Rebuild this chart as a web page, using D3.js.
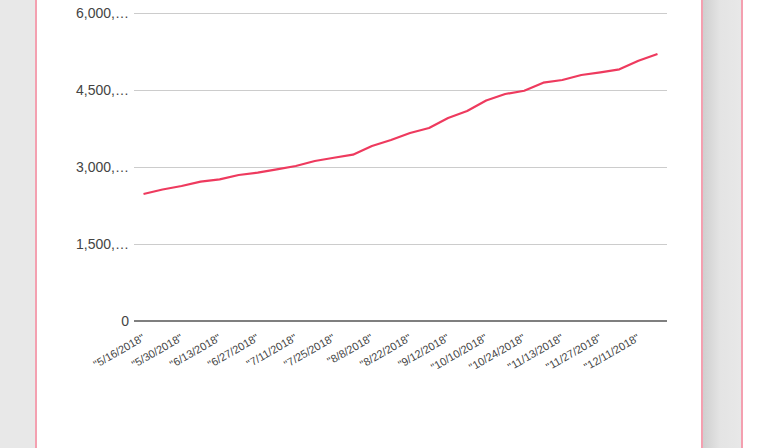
<!DOCTYPE html>
<html>
<head>
<meta charset="utf-8">
<style>
  body { margin: 0; background: #e8e8e8; }
  .grid line { stroke: #cccccc; shape-rendering: crispEdges; }
  .axis text { font-family: "Liberation Sans", Arial, sans-serif; fill: #444; }
</style>
</head>
<body>
<div id="chart"></div>
<script src="https://d3js.org/d3.v7.min.js"></script>
<script>
// categories (the csv had the quotes in the strings)
var dates = ['"5/16/2018"', '"5/23/2018"', '"5/30/2018"', '"6/6/2018"', '"6/13/2018"', '"6/20/2018"',
  '"6/27/2018"', '"7/4/2018"', '"7/11/2018"', '"7/18/2018"', '"7/25/2018"', '"8/1/2018"',
  '"8/8/2018"', '"8/15/2018"', '"8/22/2018"', '"9/5/2018"', '"9/12/2018"', '"9/26/2018"',
  '"10/10/2018"', '"10/17/2018"', '"10/24/2018"', '"10/31/2018"', '"11/13/2018"', '"11/20/2018"',
  '"11/27/2018"', '"12/4/2018"', '"12/11/2018"', '"12/18/2018"'];

var values = [2474, 2562, 2630, 2714, 2760, 2844, 2889, 2955, 3019, 3117, 3181, 3240,
  3409, 3526, 3662, 3760, 3955, 4091, 4295, 4422, 4486, 4642, 4695, 4792,
  4845, 4903, 5071, 5201];

var yTicks = [0, 1500, 3000, 4500, 6000];
var yTickLabels = ["0", "1,500,\u2026", "3,000,\u2026", "4,500,\u2026", "6,000,\u2026"];

var width = 760, height = 448;
var pink = "#f4a0b0";

var svg = d3.select("#chart").append("svg")
    .attr("width", width)
    .attr("height", height)
    .style("display", "block");

// page frame: card + side panel
svg.append("rect").attr("x", 0).attr("y", 0).attr("width", width).attr("height", height).attr("fill", "#e8e8e8");
svg.append("rect").attr("x", 37).attr("y", 0).attr("width", 664).attr("height", height).attr("fill", "#fff");
svg.append("rect").attr("x", 35).attr("y", 0).attr("width", 2).attr("height", height).attr("fill", pink);
svg.append("rect").attr("x", 701).attr("y", 0).attr("width", 2).attr("height", height).attr("fill", pink);

var grad = svg.append("defs").append("linearGradient").attr("id", "shade");
grad.append("stop").attr("offset", "0%").attr("stop-color", "#cfcfcf");
grad.append("stop").attr("offset", "45%").attr("stop-color", "#e4e4e4");
grad.append("stop").attr("offset", "100%").attr("stop-color", "#e8e8e8");
svg.append("rect").attr("x", 703).attr("y", 0).attr("width", 38).attr("height", height).attr("fill", "url(#shade)");
svg.append("rect").attr("x", 741).attr("y", 0).attr("width", 2).attr("height", height).attr("fill", pink);
svg.append("rect").attr("x", 743).attr("y", 0).attr("width", 17).attr("height", height).attr("fill", "#fff");

var plotLeft = 134, plotRight = 667, plotTop = 13, plotBottom = 321;

var x = d3.scaleBand()
    .domain(dates)
    .range([plotLeft, plotRight])
    .padding(0);

var y = d3.scaleLinear()
    .domain([0, 6000])
    .range([plotBottom, plotTop]);

// gridlines + y labels
var yAxis = svg.append("g")
    .attr("class", "axis grid")
    .attr("transform", "translate(" + plotLeft + ",0)")
    .call(d3.axisLeft(y)
        .tickValues(yTicks)
        .tickSize(-(plotRight - plotLeft))
        .tickPadding(5)
        .tickFormat(function(d, i) { return yTickLabels[i]; }));
yAxis.select(".domain").remove();
yAxis.selectAll("text").attr("font-size", 14);
yAxis.selectAll(".tick").filter(function(d) { return d === 0; }).select("line").remove();

// baseline
svg.append("line")
    .attr("x1", plotLeft).attr("x2", plotRight)
    .attr("y1", y(0)).attr("y2", y(0))
    .attr("stroke", "#555")
    .attr("stroke-width", 1.5);

// x labels, every other category
var xAxis = svg.append("g")
    .attr("class", "axis")
    .attr("transform", "translate(0," + plotBottom + ")")
    .call(d3.axisBottom(x)
        .tickValues(dates.filter(function(d, i) { return i % 2 === 0; }))
        .tickSize(0));
xAxis.select(".domain").remove();
xAxis.selectAll("text")
    .attr("font-size", 11)
    .attr("text-anchor", "end")
    .attr("x", 0).attr("y", 0).attr("dy", 0)
    .attr("transform", "translate(2,19) rotate(-30)");

var line = d3.line()
    .x(function(d, i) { return x(dates[i]) + x.bandwidth() / 2; })
    .y(function(d) { return y(d); });

svg.append("path")
    .datum(values)
    .attr("fill", "none")
    .attr("stroke", "#ee3a5e")
    .attr("stroke-width", 2.2)
    .attr("stroke-linejoin", "round")
    .attr("d", line);
</script>
</body>
</html>
